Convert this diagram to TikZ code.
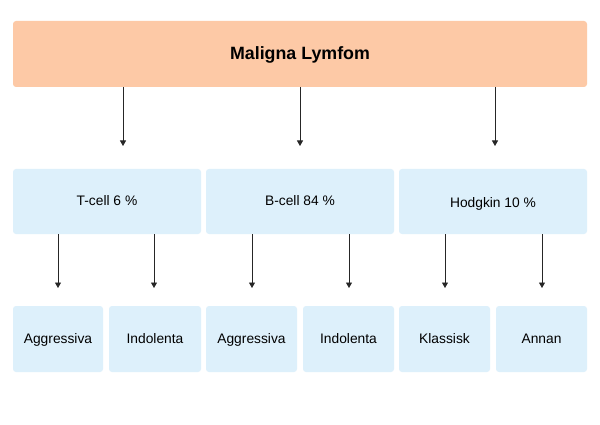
\documentclass[tikz,border=0pt]{standalone}
\usepackage{fontspec}
\setmainfont{Liberation Sans}
\usetikzlibrary{arrows.meta}
\definecolor{peach}{HTML}{FDC9A6}
\definecolor{lblue}{HTML}{DDF0FB}
\begin{document}
\begin{tikzpicture}[x=1pt,y=-1pt,
  topbox/.style={fill=peach,rounded corners=3pt,draw=none},
  bluebox/.style={fill=lblue,rounded corners=3pt,draw=none},
  arr/.style={draw=black!85,line width=0.9pt,-{Triangle[length=5.5pt,width=6pt]}},
  lbl/.style={font=\fontsize{13.8}{16}\selectfont,inner sep=0pt,anchor=base}]
\useasboundingbox[fill=white] (0,0) rectangle (600,425);
% boxes
\path[topbox] (13,21) rectangle (587,87);
\node[font=\fontsize{17.8}{20}\bfseries,inner sep=0pt,anchor=base] (top) at (300,59.3) {Maligna Lymfom};
\coordinate (topb1) at (123,87);
\coordinate (topb2) at (300,87);
\coordinate (topb3) at (495,87);
\coordinate (e1) at (123,146);
\coordinate (e2) at (300,146);
\coordinate (e3) at (495,146);

\path[bluebox] (13,169) rectangle (201,234);
\path[bluebox] (206,169) rectangle (394,234);
\path[bluebox] (399,169) rectangle (587,234);
\node[lbl] (t) at (107,205) {T-cell 6 \%};
\node[lbl] (b) at (300,205) {B-cell 84 \%};
\node[lbl] (h) at (493,207.5) {Hodgkin 10 \%};

\foreach \x/\n in {58/a,154/b,252/c,349/d,445/e,542/f}{
  \coordinate (s\n) at (\x,234);
  \coordinate (f\n) at (\x,288);
}

\path[bluebox] (13,306) rectangle (103,372);
\path[bluebox] (109,306) rectangle (201,372);
\path[bluebox] (206,306) rectangle (297,372);
\path[bluebox] (303,306) rectangle (394,372);
\path[bluebox] (399,306) rectangle (490,372);
\path[bluebox] (496,306) rectangle (587,372);
\node[lbl] (l1) at (58,343) {Aggressiva};
\node[lbl] (l2) at (155,343) {Indolenta};
\node[lbl] (l3) at (251.5,343) {Aggressiva};
\node[lbl] (l4) at (348.5,343) {Indolenta};
\node[lbl] (l5) at (444.5,343) {Klassisk};
\node[lbl] (l6) at (541.5,343) {Annan};

% arrows
\draw[arr] (topb1) -- (e1);
\draw[arr] (topb2) -- (e2);
\draw[arr] (topb3) -- (e3);
\foreach \n in {a,b,c,d,e,f}{\draw[arr] (s\n) -- (f\n);}
\end{tikzpicture}
\end{document}
